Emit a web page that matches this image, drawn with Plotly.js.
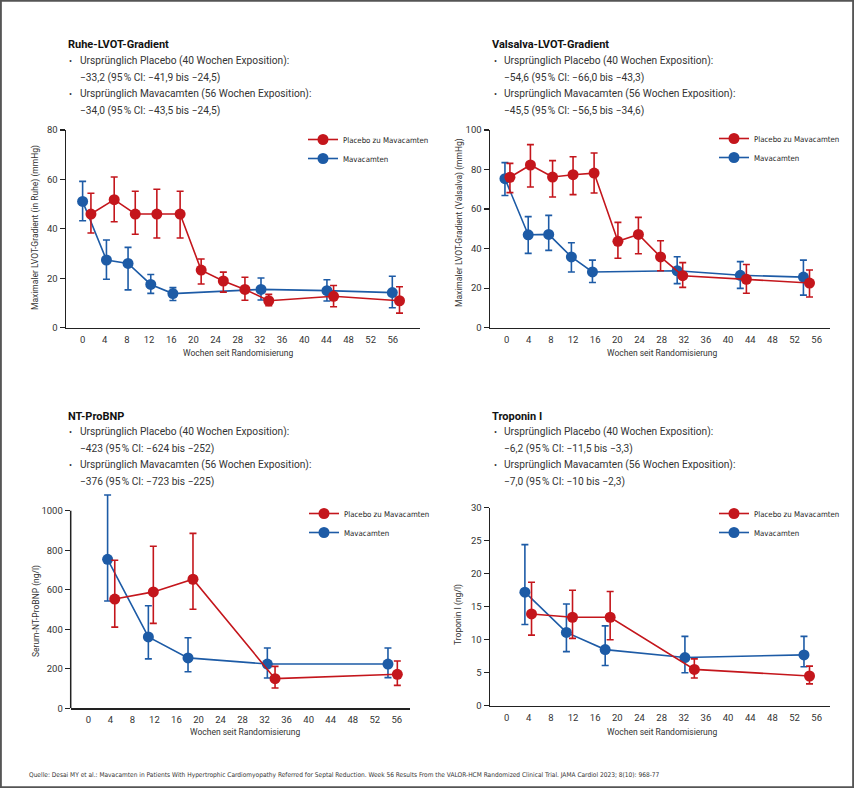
<!DOCTYPE html>
<html>
<head>
<meta charset="utf-8">
<script src="https://cdn.plot.ly/plotly-3.0.1.min.js"></script>
<style>html,body{margin:0;padding:0;background:#fff;}#chart{width:854px;height:788px;}</style>
</head>
<body>
<div id="chart"></div>
<script>
// ---------- DATA ----------
const tickWeeks = [0,4,8,12,16,20,24,28,32,36,40,44,48,52,56];
const seriesNames = ["Placebo zu Mavacamten", "Mavacamten"];

// Panel 1: Ruhe-LVOT-Gradient (mmHg)
const ruheMavaWeeks = [0, 4.3, 8.2, 12.3, 16.3, 32.2, 44.1, 55.9];
const ruheMavaVal   = [51.1, 27.4, 26.0, 17.5, 13.8, 15.5, 15.0, 14.2];
const ruheMavaHi    = [59.2, 35.5, 32.5, 21.5, 16.2, 20.1, 19.4, 20.8];
const ruheMavaLo    = [43.3, 19.6, 15.3, 13.9, 11.0, 11.2, 10.8, 8.1];
const ruhePlacWeeks = [1.5, 5.7, 9.5, 13.4, 17.6, 21.4, 25.4, 29.3, 33.6, 45.3, 57.2];
const ruhePlacVal   = [46.0, 51.8, 46.0, 46.0, 46.0, 23.3, 18.9, 15.5, 10.9, 12.7, 10.9];
const ruhePlacHi    = [54.4, 61.0, 55.2, 56.0, 55.2, 27.8, 22.5, 20.4, 13.5, 17.1, 16.6];
const ruhePlacLo    = [38.3, 42.9, 37.8, 36.3, 36.3, 17.7, 14.4, 11.1, 8.9, 8.5, 5.9];

// Panel 2: Valsalva-LVOT-Gradient (mmHg)
const valsMavaWeeks = [-0.3, 3.9, 7.6, 11.7, 15.5, 30.8, 42.2, 53.6];
const valsMavaVal   = [75.4, 47.0, 47.2, 35.8, 28.2, 28.8, 26.5, 25.6];
const valsMavaHi    = [83.5, 56.2, 56.8, 43.0, 34.2, 35.9, 33.4, 34.2];
const valsMavaLo    = [66.9, 37.6, 39.1, 28.2, 22.9, 22.3, 19.9, 16.5];
const valsPlacWeeks = [0.6, 4.3, 8.3, 12.0, 15.8, 20.1, 23.8, 27.8, 31.8, 43.3, 54.7];
const valsPlacVal   = [76.1, 82.3, 76.2, 77.4, 78.2, 43.7, 47.2, 35.8, 26.3, 24.5, 22.6];
const valsPlacHi    = [83.1, 92.6, 84.5, 86.5, 88.4, 53.3, 55.8, 44.0, 32.9, 32.0, 29.2];
const valsPlacLo    = [68.3, 71.2, 66.1, 67.3, 68.1, 35.1, 37.4, 28.8, 20.4, 17.4, 15.5];

// Panel 3: NT-ProBNP (ng/l)
const bnpMavaWeeks = [3.5, 10.9, 18.1, 32.5, 54.4];
const bnpMavaVal   = [754, 361, 255, 224, 224];
const bnpMavaHi    = [1079, 519, 357, 305, 305];
const bnpMavaLo    = [543, 250, 185, 153, 155];
const bnpPlacWeeks = [4.8, 11.8, 19.0, 33.9, 56.1];
const bnpPlacVal   = [553, 589, 653, 150, 172];
const bnpPlacHi    = [749, 820, 885, 212, 239];
const bnpPlacLo    = [411, 430, 501, 103, 116];

// Panel 4: Troponin I (ng/l)
const tropMavaWeeks = [3.3, 10.8, 17.8, 32.2, 53.7];
const tropMavaVal   = [17.2, 11.1, 8.5, 7.3, 7.7];
const tropMavaHi    = [24.4, 15.4, 12.1, 10.5, 10.5];
const tropMavaLo    = [12.3, 8.2, 6.1, 5.0, 5.9];
const tropPlacWeeks = [4.5, 11.9, 18.7, 33.9, 54.7];
const tropPlacVal   = [13.9, 13.4, 13.4, 5.5, 4.5];
const tropPlacHi    = [18.7, 17.5, 17.3, 7.1, 6.0];
const tropPlacLo    = [10.7, 10.2, 10.0, 4.2, 3.3];

// Y tick values per panel
const yTicks1 = [0, 20, 40, 60, 80];
const yTicks2 = [0, 20, 40, 60, 80, 100];
const yTicks3 = [0, 200, 400, 600, 800, 1000];
const yTicks4 = [0, 5, 10, 15, 20, 25, 30];

// Text
const panelTitles = ["Ruhe-LVOT-Gradient", "Valsalva-LVOT-Gradient", "NT-ProBNP", "Troponin I"];
const panelLines = [
  ["Ursprünglich Placebo (40 Wochen Exposition):", "\u221233,2 (95\u202f% CI: \u221241,9 bis \u221224,5)",
   "Ursprünglich Mavacamten (56 Wochen Exposition):", "\u221234,0 (95\u202f% CI: \u221243,5 bis \u221224,5)"],
  ["Ursprünglich Placebo (40 Wochen Exposition):", "\u221254,6 (95\u202f% CI: \u221266,0 bis \u221243,3)",
   "Ursprünglich Mavacamten (56 Wochen Exposition):", "\u221245,5 (95\u202f% CI: \u221256,5 bis \u221234,6)"],
  ["Ursprünglich Placebo (40 Wochen Exposition):", "\u2212423 (95\u202f% CI: \u2212624 bis \u2212252)",
   "Ursprünglich Mavacamten (56 Wochen Exposition):", "\u2212376 (95\u202f% CI: \u2212723 bis \u2212225)"],
  ["Ursprünglich Placebo (40 Wochen Exposition):", "\u22126,2 (95\u202f% CI: \u221211,5 bis \u22123,3)",
   "Ursprünglich Mavacamten (56 Wochen Exposition):", "\u22127,0 (95\u202f% CI: \u221210 bis \u22122,3)"]
];
const yTitles = ["Maximaler LVOT-Gradient (in Ruhe) (mmHg)", "Maximaler LVOT-Gradient (Valsalva) (mmHg)",
                 "Serum-NT-ProBNP (ng/l)", "Troponin I (ng/l)"];
const xTitle = "Wochen seit Randomisierung";
const sourceText = "Quelle: Desai MY et al.: Mavacamten in Patients With Hypertrophic Cardiomyopathy Referred for Septal Reduction. Week 56 Results From the VALOR-HCM Randomized Clinical Trial. JAMA Cardiol 2023; 8(10): 968-77";

// ---------- STYLE / LAYOUT ----------
const W = 854, H = 788;
const RED = "#c4161c", BLUE = "#1d5ba6";
const FONT = "Roboto, 'Open Sans', sans-serif";
const NARROW = "'Liberation Sans Narrow', 'DejaVu Sans Condensed', Roboto, sans-serif";
const px = v => v / W;
const py = v => 1 - v / H;

const yTickSets = [yTicks1, yTicks2, yTicks3, yTicks4];
// pixel boxes [left, right, top, bottom]; panel 3 extends above its top tick so the long whisker shows
const boxes = [[66, 420, 130, 327.7], [490, 830, 130, 327.7], [70.7, 410, 492.9, 708.3], [490, 830, 507.7, 705.7]];
const xRanges = [[-3, 60.9], [-3, 58.4], [-3.2, 58.4], [-3, 58.4]];
const yRanges = [[0, 80], [0, 100], [0, 1090], [0, 30]];

const panels = [
  {m:[ruheMavaWeeks, ruheMavaVal, ruheMavaHi, ruheMavaLo], p:[ruhePlacWeeks, ruhePlacVal, ruhePlacHi, ruhePlacLo]},
  {m:[valsMavaWeeks, valsMavaVal, valsMavaHi, valsMavaLo], p:[valsPlacWeeks, valsPlacVal, valsPlacHi, valsPlacLo]},
  {m:[bnpMavaWeeks, bnpMavaVal, bnpMavaHi, bnpMavaLo], p:[bnpPlacWeeks, bnpPlacVal, bnpPlacHi, bnpPlacLo]},
  {m:[tropMavaWeeks, tropMavaVal, tropMavaHi, tropMavaLo], p:[tropPlacWeeks, tropPlacVal, tropPlacHi, tropPlacLo]}
];

const traces = [];
const layout = {
  width: W, height: H,
  margin: {l:0, r:0, t:0, b:0},
  paper_bgcolor: "#fff", plot_bgcolor: "#fff",
  font: {family: FONT, color: "#333"},
  showlegend: true,
  annotations: [], shapes: []
};

function mkTrace(arr, name, color, i, rank) {
  const [x, y, hi, lo] = arr;
  const sfx = i === 0 ? "" : String(i + 1);
  return {
    type: "scatter", mode: "lines+markers", name: name,
    x: x, y: y,
    xaxis: "x" + sfx, yaxis: "y" + sfx,
    legend: "legend" + sfx, legendrank: rank,
    cliponaxis: false,
    line: {color: color, width: 1.6},
    marker: {color: color, size: 11},
    error_y: {type: "data", symmetric: false,
      array: hi.map((h, k) => h - y[k]), arrayminus: lo.map((l, k) => y[k] - l),
      color: color, thickness: 1.6, width: 3.5}
  };
}

const legendPos = [[303, 125], [714, 124], [304, 499], [714, 499]];

panels.forEach((pn, i) => {
  const sfx = i === 0 ? "" : String(i + 1);
  traces.push(mkTrace(pn.m, seriesNames[1], BLUE, i, 2));
  traces.push(mkTrace(pn.p, seriesNames[0], RED, i, 1));
  const b = boxes[i];
  const ticks = yTickSets[i];
  const manualYLine = (i === 2);
  layout["xaxis" + sfx] = {
    domain: [px(b[0]), px(b[1])], range: xRanges[i], anchor: "y" + sfx,
    tickmode: "array", tickvals: tickWeeks, ticktext: tickWeeks.map(String),
    showgrid: false, zeroline: false, showline: true, linecolor: "#222", linewidth: 1.5,
    ticks: "", tickfont: {size: 9.5, color: "#333", family: FONT}, ticklabelstandoff: 2
  };
  layout["yaxis" + sfx] = {
    domain: [py(b[3]), py(b[2])], range: yRanges[i], anchor: "x" + sfx,
    tickmode: "array", tickvals: ticks, ticktext: ticks.map(String),
    showgrid: false, zeroline: false, showline: !manualYLine, linecolor: "#222", linewidth: 1.5,
    ticks: "outside", ticklen: 5, tickwidth: 1.2, tickcolor: "#222",
    tickfont: {size: 9.5, color: "#333", family: FONT}
  };
  if (manualYLine) {
    layout.shapes.push({type: "line", xref: "x" + sfx + " domain", yref: "y" + sfx,
      x0: 0, x1: 0, y0: 0, y1: ticks[ticks.length - 1], line: {color: "#222", width: 1.5}});
  }
  layout["legend" + sfx] = {
    x: px(legendPos[i][0]), y: py(legendPos[i][1]), xanchor: "left", yanchor: "top",
    bgcolor: "rgba(0,0,0,0)", font: {size: 7.8, family: NARROW, color: "#222"},
    itemwidth: 30, tracegroupgap: 0
  };
});

// axis titles
const xTitleCx = [238.5, 662, 245, 662];
const xTitleCy = [353, 353, 731.7, 731.7];
const yTitleCx = [36, 460, 36, 458];
const yTitleCy = [228, 223, 611, 615];
for (let i = 0; i < 4; i++) {
  layout.annotations.push({
    xref: "paper", yref: "paper", x: px(xTitleCx[i]), y: py(xTitleCy[i]),
    text: xTitle, showarrow: false, xanchor: "center", yanchor: "middle",
    font: {size: 8.5, family: FONT, color: "#333"}
  });
  layout.annotations.push({
    xref: "paper", yref: "paper", x: px(yTitleCx[i]), y: py(yTitleCy[i]),
    text: yTitles[i], showarrow: false, textangle: -90, xanchor: "center", yanchor: "middle",
    font: {size: 8.5, family: FONT, color: "#333"}
  });
}

// text blocks
const blockX = [65.7, 490, 65.7, 490];
const blockY = [45, 45, 416, 416];
for (let i = 0; i < 4; i++) {
  layout.annotations.push({
    xref: "paper", yref: "paper", x: px(blockX[i]), y: py(blockY[i]),
    text: "<b>" + panelTitles[i] + "</b>", showarrow: false, xanchor: "left", yanchor: "middle",
    font: {size: 11, family: FONT, color: "#111"}
  });
  panelLines[i].forEach((ln, k) => {
    const yy = blockY[i] + 16.4 * (k + 1);
    if (k % 2 === 0) {
      layout.annotations.push({
        xref: "paper", yref: "paper", x: px(blockX[i] + 1.5), y: py(yy),
        text: "\u2022", showarrow: false, xanchor: "left", yanchor: "middle",
        font: {size: 9, family: FONT, color: "#333"}
      });
    }
    layout.annotations.push({
      xref: "paper", yref: "paper", x: px(blockX[i] + 12), y: py(yy),
      text: ln, showarrow: false, xanchor: "left", yanchor: "middle",
      font: {size: 10.2, family: FONT, color: "#333"}
    });
  });
}
// source
layout.annotations.push({
  xref: "paper", yref: "paper", x: px(27), y: py(775),
  text: sourceText, showarrow: false, xanchor: "left", yanchor: "middle",
  font: {size: 6.55, family: NARROW, color: "#333"}
});
// frame
layout.shapes.push({type: "rect", xref: "paper", yref: "paper", x0: 0.001, x1: 0.999, y0: 0.001, y1: 0.999,
  line: {color: "#555", width: 2}});

Plotly.newPlot("chart", traces, layout, {staticPlot: true, displayModeBar: false});
</script>
</body>
</html>
